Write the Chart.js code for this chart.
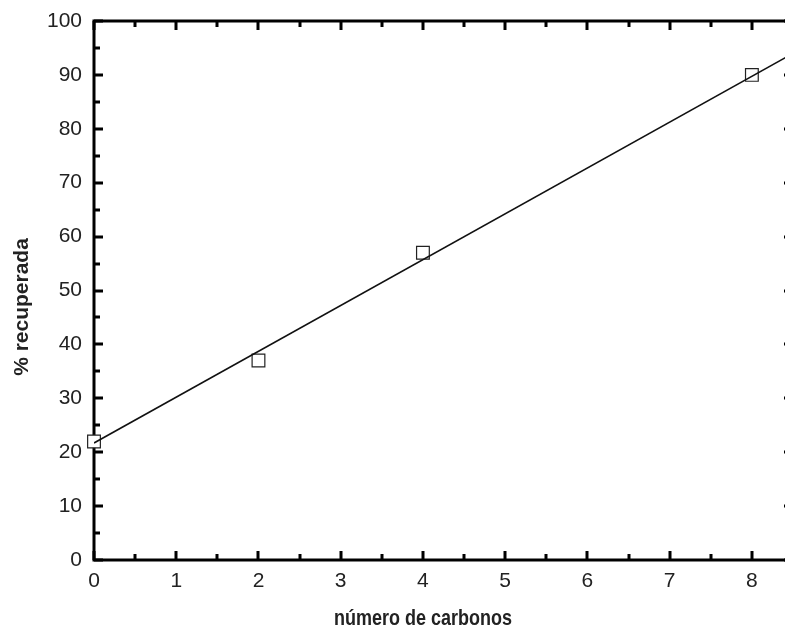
<!DOCTYPE html>
<html>
<head>
<meta charset="utf-8">
<script src="https://cdn.jsdelivr.net/npm/chart.js@4.4.0/dist/chart.umd.min.js"></script>
<style>
  html, body { margin: 0; padding: 0; background: #fff; overflow: hidden; }
  #wrap { width: 785px; height: 630px; overflow: hidden; }
</style>
</head>
<body>
<div id="wrap"><canvas id="chart" width="820" height="630"></canvas></div>
<script>
// Measured points (carbon number vs % recovered)
const carbonos = [0, 2, 4, 8];
const recuperada = [22, 37, 57, 90];

// Fitted straight line, end points
const fitX = [0, 8.5];
const fitY = [21.7, 94];

// Tick labels
const xTicks = [0, 1, 2, 3, 4, 5, 6, 7, 8];
const yTicks = [0, 10, 20, 30, 40, 50, 60, 70, 80, 90, 100];

const xTitle = 'número de carbonos';
const yTitle = '% recuperada';

// To draw the box and the inward ticks (major + minor) on every side
const framePlugin = {
    id: 'frame',
    beforeDatasetsDraw(chart) {
        const ctx = chart.ctx;
        const a = chart.chartArea;
        const xs = chart.scales.x;
        const ys = chart.scales.y;
        ctx.save();
        ctx.strokeStyle = '#000';
        ctx.lineWidth = 3;
        ctx.lineCap = 'butt';
        ctx.strokeRect(a.left, a.top, a.right - a.left, a.bottom - a.top);

        ctx.beginPath();
        for (let v = 0; v <= 8.5; v += 0.5) {
            const len = Number.isInteger(v) ? 9 : 6;
            const px = Math.round(xs.getPixelForValue(v));
            ctx.moveTo(px, a.bottom);
            ctx.lineTo(px, a.bottom - len);
            ctx.moveTo(px, a.top);
            ctx.lineTo(px, a.top + len);
        }
        for (let v = 0; v <= 100; v += 5) {
            const len = v % 10 === 0 ? 9 : 6;
            const py = Math.round(ys.getPixelForValue(v));
            ctx.moveTo(a.left, py);
            ctx.lineTo(a.left + len, py);
            ctx.moveTo(a.right, py);
            ctx.lineTo(a.right - len, py);
        }
        ctx.stroke();
        ctx.restore();
    },
    afterDraw(chart) {
        const ctx = chart.ctx;
        ctx.save();
        ctx.fillStyle = '#222';
        ctx.textAlign = 'center';
        ctx.textBaseline = 'alphabetic';
        // x title looks a bit taller than wide in the picture
        ctx.save();
        ctx.font = 'bold 18px "Liberation Sans", Arial, sans-serif';
        ctx.translate(423, 625);
        ctx.scale(1, 1.2);
        ctx.fillText(xTitle, 0, 0);
        ctx.restore();
        ctx.font = 'bold 21px "Liberation Sans", Arial, sans-serif';
        ctx.translate(28, 307);
        ctx.rotate(-Math.PI / 2);
        ctx.fillText(yTitle, 0, 0);
        ctx.restore();
    }
};

const ctx = document.getElementById('chart').getContext('2d');
const chart = new Chart(ctx, {
    type: 'scatter',
    data: {
        datasets: [
            {
                label: 'ajuste',
                type: 'line',
                data: fitX.map((x, i) => ({ x: x, y: fitY[i] })),
                borderColor: '#111',
                borderWidth: 1.6,
                pointRadius: 0,
                fill: false
            },
            {
                label: 'datos',
                data: carbonos.map((x, i) => ({ x: x, y: recuperada[i] })),
                pointStyle: 'rect',
                pointRadius: 9,
                pointHoverRadius: 9,
                backgroundColor: '#fff',
                borderColor: '#222',
                borderWidth: 1.2,
                clip: false
            }
        ]
    },
    options: {
        responsive: false,
        devicePixelRatio: 1,
        animation: false,
        layout: { padding: { top: 21, right: 27, left: 0, bottom: 0 } },
        plugins: {
            legend: { display: false },
            tooltip: { enabled: false }
        },
        scales: {
            x: {
                type: 'linear',
                min: 0,
                max: 8.5,
                afterBuildTicks: s => { s.ticks = xTicks.map(v => ({ value: v })); },
                afterFit: s => { s.height = 70; },
                grid: { display: false },
                border: { display: false },
                ticks: {
                    color: '#222',
                    padding: 1,
                    maxRotation: 0,
                    font: { family: '"Liberation Sans", Arial, sans-serif', size: 21 }
                }
            },
            y: {
                type: 'linear',
                min: 0,
                max: 100,
                afterBuildTicks: s => { s.ticks = yTicks.map(v => ({ value: v })); },
                afterFit: s => { s.width = 94; },
                grid: { display: false },
                border: { display: false },
                ticks: {
                    color: '#222',
                    padding: 4,
                    font: { family: '"Liberation Sans", Arial, sans-serif', size: 21 }
                }
            }
        }
    },
    plugins: [framePlugin]
});
</script>
</body>
</html>
